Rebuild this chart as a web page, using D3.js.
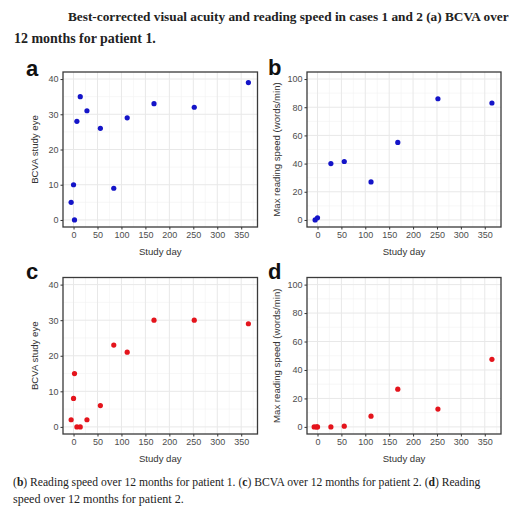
<!DOCTYPE html>
<html><head><meta charset="utf-8">
<script src="https://cdn.jsdelivr.net/npm/d3@7"></script>
<style>
html,body{margin:0;padding:0;background:#fff;}
svg{display:block;}
</style></head>
<body>
<script>
// ---- data ----
const titleLines = ["Best-corrected visual acuity and reading speed in cases 1 and 2 (a) BCVA over", "12 months for patient 1."];
const xTicks = [0, 50, 100, 150, 200, 250, 300, 350];
const bcvaTicks = [0, 10, 20, 30, 40];
const speedTicks = [0, 20, 40, 60, 80, 100];

const p1BcvaDays = [-5, 0, 2, 7, 14, 28, 56, 84, 112, 168, 252, 365];
const p1BcvaVals = [5, 10, 0, 28, 35, 31, 26, 9, 29, 33, 32, 39];
const p1SpeedDays = [-5, 0, 28, 56, 112, 168, 252, 365];
const p1SpeedVals = [0, 1.5, 40, 41.5, 27, 55, 86, 83];
const p2BcvaDays = [-5, 0, 2, 7, 14, 28, 56, 84, 112, 168, 252, 365];
const p2BcvaVals = [2, 8, 15, 0, 0, 2, 6, 23, 21, 30, 30, 29];
const p2SpeedDays = [-7, -2, 0, 28, 56, 112, 168, 252, 365];
const p2SpeedVals = [0, 0, 0, 0, 0.5, 7.5, 26.5, 12.5, 47.5];

const W = 523, H = 509;
const svg = d3.select("body").append("svg").attr("width", W).attr("height", H);

const tf = "'Liberation Serif', serif";
// fit a text (possibly with tspans) to a target width by adjusting font size
function fitText(sel, width, base) {
  sel.attr("font-size", base);
  const w = sel.node().getComputedTextLength();
  sel.attr("font-size", base * width / w);
}

// title
fitText(svg.append("text").attr("x", 68).attr("y", 21).attr("font-family", tf).attr("font-weight", "bold")
  .attr("fill", "#222").text(titleLines[0]), 441, 13);
fitText(svg.append("text").attr("x", 14).attr("y", 43).attr("font-family", tf).attr("font-weight", "bold")
  .attr("fill", "#222").text(titleLines[1]), 142, 13);

// caption
const cap1 = svg.append("text").attr("x", 13).attr("y", 486).attr("font-family", tf).attr("fill", "#222");
[["(", false], ["b", true], [") Reading speed over 12 months for patient 1. (", false], ["c", true],
 [") BCVA over 12 months for patient 2. (", false], ["d", true], [") Reading", false]].forEach(([t, b]) => {
  cap1.append("tspan").attr("font-weight", b ? "bold" : "normal").text(t);
});
fitText(cap1, 468, 13);
fitText(svg.append("text").attr("x", 13).attr("y", 503).attr("font-family", tf).attr("fill", "#222")
  .text("speed over 12 months for patient 2."), 171, 13);

const sf = "'Liberation Sans', Arial, sans-serif";

function panel(o) {
  const g = svg.append("g");
  const x = d3.scaleLinear().domain([-22, 384]).range([o.l, o.r]);
  const y = d3.scaleLinear().domain(o.ydom).range([o.b, o.t]);
  // minor grid
  const xMinor = xTicks.slice(0, -1).map((d, i) => (d + xTicks[i + 1]) / 2).concat([375]);
  const yMinor = o.yticks.slice(0, -1).map((d, i) => (d + o.yticks[i + 1]) / 2);
  g.selectAll(".xm").data(xMinor.filter(d => x(d) < o.r)).enter().append("line")
    .attr("x1", d => x(d)).attr("x2", d => x(d)).attr("y1", o.t).attr("y2", o.b)
    .attr("stroke", "#f2f2f2").attr("stroke-width", 0.6);
  g.selectAll(".ym").data(yMinor).enter().append("line")
    .attr("y1", d => y(d)).attr("y2", d => y(d)).attr("x1", o.l).attr("x2", o.r)
    .attr("stroke", "#f2f2f2").attr("stroke-width", 0.6);
  // major grid
  g.selectAll(".xg").data(xTicks).enter().append("line")
    .attr("x1", d => x(d)).attr("x2", d => x(d)).attr("y1", o.t).attr("y2", o.b)
    .attr("stroke", "#e8e8e8").attr("stroke-width", 1);
  g.selectAll(".yg").data(o.yticks).enter().append("line")
    .attr("y1", d => y(d)).attr("y2", d => y(d)).attr("x1", o.l).attr("x2", o.r)
    .attr("stroke", "#e8e8e8").attr("stroke-width", 1);
  // axes
  const xa = g.append("g").attr("transform", `translate(0,${o.b})`)
    .call(d3.axisBottom(x).tickValues(xTicks).tickSize(2.5).tickPadding(2.5));
  const ya = g.append("g").attr("transform", `translate(${o.l},0)`)
    .call(d3.axisLeft(y).tickValues(o.yticks).tickSize(2.5).tickPadding(2));
  [xa, ya].forEach(a => {
    a.select(".domain").remove();
    a.selectAll("line").attr("stroke", "#333");
    a.selectAll("text").attr("font-family", sf).attr("font-size", 9).attr("fill", "#4d4d4d");
  });
  // points
  g.selectAll("circle").data(o.days.map((d, i) => [d, o.vals[i]])).enter().append("circle")
    .attr("cx", d => x(d[0])).attr("cy", d => y(d[1])).attr("r", 2.6).attr("fill", o.color);
  // border
  g.append("rect").attr("x", o.l).attr("y", o.t).attr("width", o.r - o.l).attr("height", o.b - o.t)
    .attr("fill", "none").attr("stroke", "#3a3a3a").attr("stroke-width", 1.3);
  // titles
  g.append("text").attr("x", (o.l + o.r) / 2).attr("y", o.b + 28).attr("text-anchor", "middle")
    .attr("font-family", sf).attr("font-size", 9.6).attr("fill", "#333").text("Study day");
  g.append("text").attr("transform", `translate(${o.yt},${(o.t + o.b) / 2}) rotate(-90)`)
    .attr("text-anchor", "middle").attr("font-family", sf).attr("font-size", 9.6).attr("fill", "#333").text(o.ylabel);
  g.append("text").attr("x", o.lx).attr("y", o.ly).attr("font-family", sf).attr("font-weight", "bold")
    .attr("font-size", 22).attr("fill", "#111").text(o.letter);
}

const bcvaDom = [-2, 42], speedDom = [-5, 105];
panel({l: 63, r: 257.5, t: 72, b: 227, ydom: bcvaDom, yticks: bcvaTicks, days: p1BcvaDays, vals: p1BcvaVals,
  color: "#1414c8", ylabel: "BCVA study eye", yt: 38, letter: "a", lx: 26, ly: 76});
panel({l: 307, r: 501, t: 72, b: 227, ydom: speedDom, yticks: speedTicks, days: p1SpeedDays, vals: p1SpeedVals,
  color: "#1414c8", ylabel: "Max reading speed (words/min)", yt: 280, letter: "b", lx: 268, ly: 75});
panel({l: 63, r: 257.5, t: 277.5, b: 434, ydom: bcvaDom, yticks: bcvaTicks, days: p2BcvaDays, vals: p2BcvaVals,
  color: "#e4141c", ylabel: "BCVA study eye", yt: 38, letter: "c", lx: 26, ly: 279});
panel({l: 307, r: 501, t: 277.5, b: 434, ydom: speedDom, yticks: speedTicks, days: p2SpeedDays, vals: p2SpeedVals,
  color: "#e4141c", ylabel: "Max reading speed (words/min)", yt: 280, letter: "d", lx: 268, ly: 279});
</script>
</body></html>
